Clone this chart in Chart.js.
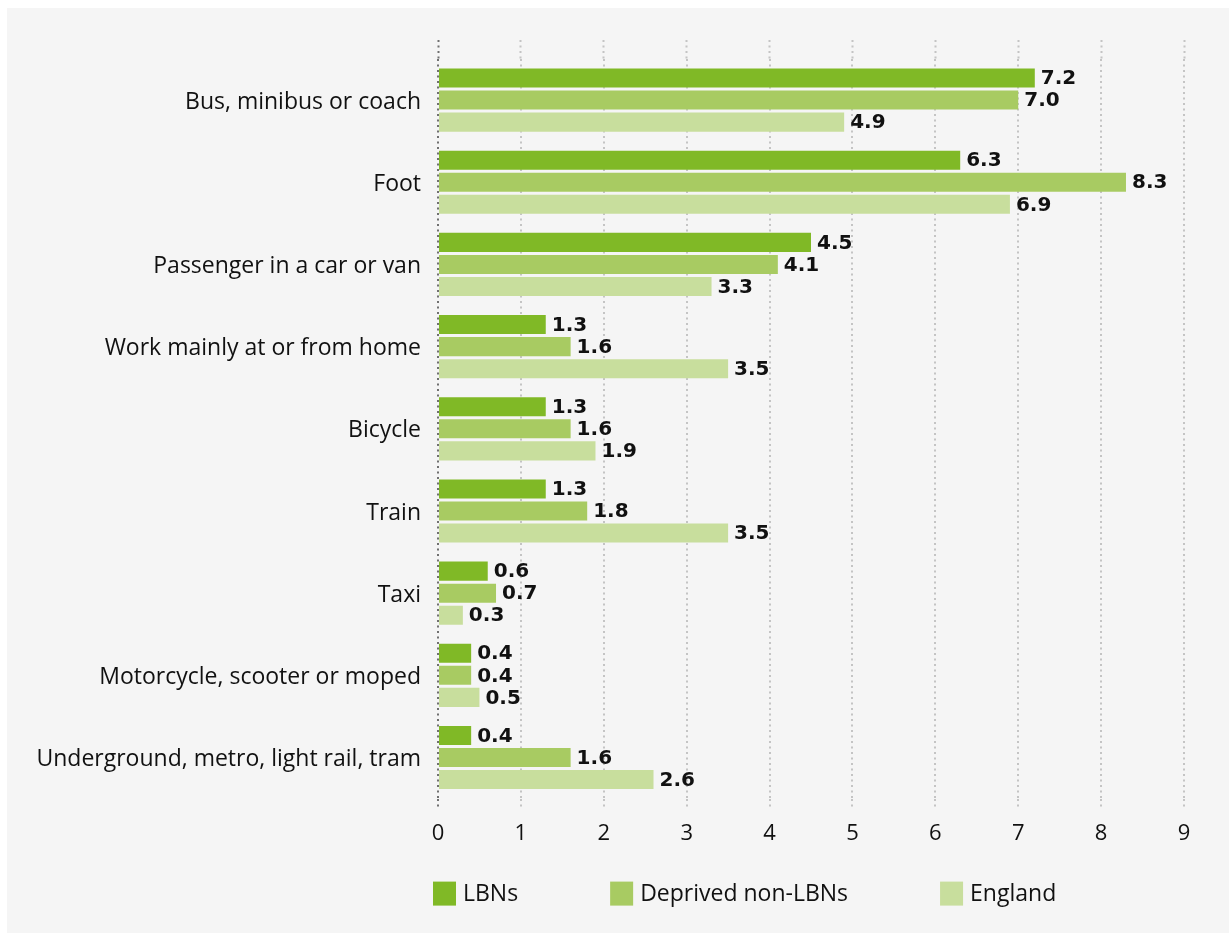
<!DOCTYPE html>
<html lang="en">
<head>
    <meta charset="UTF-8">
    <title>Travel to work mode</title>
    <script src="https://cdn.jsdelivr.net/npm/chart.js@4.4.1/dist/chart.umd.min.js"></script>
    <style>
        body {
            margin: 0;
            padding: 0;
            background: #ffffff;
        }
        .chart-box {
            position: absolute;
            left: 7px;
            top: 8px;
            width: 1222px;
            height: 925px;
            background: #f5f5f5;
        }
    </style>
</head>
<body>
    <div class="chart-box">
        <canvas id="modeChart"></canvas>
    </div>

    <script>
        const categories = [
            'Bus, minibus or coach',
            'Foot',
            'Passenger in a car or van',
            'Work mainly at or from home',
            'Bicycle',
            'Train',
            'Taxi',
            'Motorcycle, scooter or moped',
            'Underground, metro, light rail, tram'
        ];
        const seriesNames = ['LBNs', 'Deprived non-LBNs', 'England'];
        const lbns = [7.2, 6.3, 4.5, 1.3, 1.3, 1.3, 0.6, 0.4, 0.4];
        const deprivedNonLbns = [7.0, 8.3, 4.1, 1.6, 1.6, 1.8, 0.7, 0.4, 1.6];
        const england = [4.9, 6.9, 3.3, 3.5, 1.9, 3.5, 0.3, 0.5, 2.6];
        const xTicks = [0, 1, 2, 3, 4, 5, 6, 7, 8, 9];

        const colours = ['#80b926', '#a8cb62', '#c8de9d'];
        const textFont = "'Open Sans', 'Lato', sans-serif";

        const gridColour = c => (c.tick && c.tick.value === 0) ? '#707070' : '#c4c4c4';
        const dots = [2, 3.5];

        // value labels at the end of each bar
        const valueLabels = {
            id: 'valueLabels',
            afterDatasetsDraw(chart) {
                const ctx = chart.ctx;
                ctx.save();
                ctx.font = "bold 20px 'DejaVu Sans', sans-serif";
                ctx.fillStyle = '#111';
                ctx.textBaseline = 'middle';
                ctx.textAlign = 'left';
                chart.data.datasets.forEach((ds, i) => {
                    chart.getDatasetMeta(i).data.forEach((bar, j) => {
                        ctx.fillText(ds.data[j].toFixed(1), bar.x + 6, bar.y + 1);
                    });
                });
                ctx.restore();
            }
        };

        // legend under the axis, starting at the chart area's left edge
        const bottomLegend = {
            id: 'bottomLegend',
            afterDraw(chart) {
                const ctx = chart.ctx;
                const y = chart.chartArea.bottom + 95;
                let x = chart.chartArea.left - 5;
                ctx.save();
                ctx.font = "23px " + textFont;
                ctx.textBaseline = 'middle';
                chart.data.datasets.forEach(ds => {
                    ctx.fillStyle = ds.backgroundColor;
                    ctx.fillRect(x, y - 12, 23, 24);
                    ctx.fillStyle = '#111';
                    ctx.fillText(ds.label, x + 30, y + 1);
                    x += 30 + ctx.measureText(ds.label).width + 92;
                });
                ctx.restore();
            }
        };

        const seriesData = [lbns, deprivedNonLbns, england];

        new Chart(document.getElementById('modeChart'), {
            type: 'bar',
            data: {
                labels: categories,
                datasets: seriesNames.map((name, i) => ({
                    label: name,
                    data: seriesData[i],
                    backgroundColor: colours[i],
                    categoryPercentage: 0.805,
                    barPercentage: 0.864
                }))
            },
            options: {
                indexAxis: 'y',
                responsive: true,
                maintainAspectRatio: false,
                devicePixelRatio: 1,
                animation: false,
                layout: {
                    padding: { top: 32, right: 45, bottom: 72, left: 0 }
                },
                plugins: {
                    legend: { display: false },
                    tooltip: { enabled: false }
                },
                scales: {
                    x: {
                        position: 'bottom',
                        min: 0,
                        max: 9,
                        afterBuildTicks: s => { s.ticks = xTicks.map(v => ({ value: v })); },
                        ticks: {
                            padding: 14,
                            color: '#111',
                            font: { family: textFont, size: 22 }
                        },
                        grid: {
                            color: gridColour,
                            tickColor: gridColour,
                            lineWidth: 2,
                            tickWidth: 2,
                            tickBorderDash: dots,
                            drawTicks: true,
                            tickLength: 8
                        },
                        border: { display: false, dash: dots }
                    },
                    xTop: {
                        type: 'linear',
                        position: 'top',
                        axis: 'x',
                        min: 0,
                        max: 9,
                        afterBuildTicks: s => { s.ticks = xTicks.map(v => ({ value: v })); },
                        ticks: { display: false },
                        grid: {
                            drawOnChartArea: false,
                            drawTicks: true,
                            tickLength: 19,
                            tickColor: gridColour,
                            tickWidth: 2,
                            tickBorderDash: dots
                        },
                        border: { display: false }
                    },
                    y: {
                        afterFit: s => { s.width = 431; },
                        ticks: {
                            padding: 17,
                            labelOffset: 2,
                            color: '#111',
                            font: { family: textFont, size: 23 }
                        },
                        grid: { display: false, drawTicks: false },
                        border: { display: false }
                    }
                }
            },
            plugins: [valueLabels, bottomLegend]
        });
    </script>
</body>
</html>
